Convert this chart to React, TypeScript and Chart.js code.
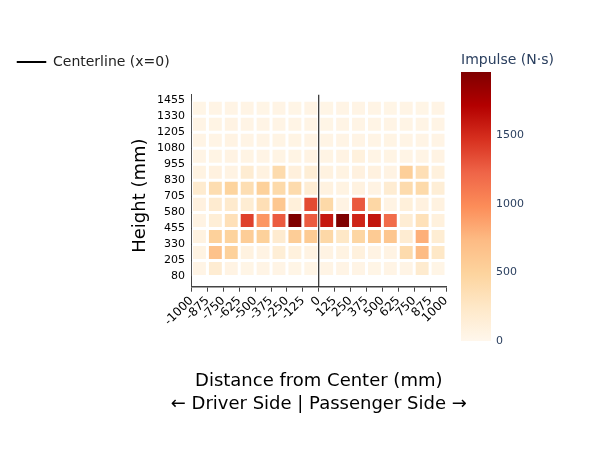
import { useEffect, useRef } from 'react';
import { Chart, registerables } from 'chart.js';

Chart.register(...registerables);
Chart.defaults.font.family = "'DejaVu Sans', Verdana, sans-serif";

// Bin edges, also used as the tick labels
const xEdges = [-1000, -875, -750, -625, -500, -375, -250, -125, 0, 125, 250, 375, 500, 625, 750, 875, 1000];
const yEdges = [80, 205, 330, 455, 580, 705, 830, 955, 1080, 1205, 1330, 1455];

// Impulse (N·s) per cell, one array per height bin (lower edge in the name), left to right
const h80 = [50, 180, 60, 40, 50, 45, 40, 40, 50, 50, 50, 40, 50, 50, 200, 40];
const h205 = [70, 670, 520, 80, 60, 150, 100, 60, 60, 70, 100, 60, 60, 400, 730, 250];
const h330 = [80, 520, 500, 560, 520, 190, 560, 580, 440, 250, 460, 580, 630, 180, 800, 170];
const h455 = [60, 150, 340, 1390, 930, 1270, 1960, 1270, 1590, 1960, 1530, 1610, 1180, 160, 330, 100];
const h580 = [90, 190, 210, 170, 350, 620, 120, 1350, 430, 60, 1280, 450, 60, 120, 90, 80];
const h705 = [200, 380, 490, 370, 520, 420, 400, 160, 80, 70, 80, 60, 180, 400, 420, 150];
const h830 = [70, 90, 60, 180, 80, 400, 110, 150, 80, 70, 90, 90, 60, 540, 350, 100];
const h955 = [50, 55, 60, 55, 50, 55, 55, 60, 55, 60, 100, 50, 55, 50, 45, 60];
const h1080 = [45, 50, 60, 50, 45, 55, 55, 50, 45, 50, 45, 45, 55, 45, 45, 50];
const h1205 = [45, 55, 60, 50, 45, 50, 45, 50, 40, 50, 45, 45, 50, 50, 45, 45];
const h1330 = [40, 45, 50, 45, 40, 45, 40, 45, 40, 45, 45, 45, 40, 45, 40, 45];
const impulseRows = [h80, h205, h330, h455, h580, h705, h830, h955, h1080, h1205, h1330];

const centerlineX = [0, 0];
const centerlineY = [0, 1500];
const colorbarTicks = [0, 500, 1000, 1500];

const xTitle = ['Distance from Center (mm)', '← Driver Side | Passenger Side →'];
const yTitle = 'Height (mm)';

// OrRd colour scale
const orRd: [number, number[]][] = [
  [0, [255, 247, 236]],
  [0.125, [254, 232, 200]],
  [0.25, [253, 212, 158]],
  [0.375, [253, 187, 132]],
  [0.5, [252, 141, 89]],
  [0.625, [239, 101, 72]],
  [0.75, [215, 48, 31]],
  [0.875, [179, 0, 0]],
  [1, [127, 0, 0]],
];

const zMax = Math.max(...impulseRows.flat());

function cellColor(v: number) {
  const t = Math.min(1, Math.max(0, v / zMax));
  for (let i = 1; i < orRd.length; i++) {
    const [t0, c0] = orRd[i - 1];
    const [t1, c1] = orRd[i];
    if (t <= t1) {
      const f = (t - t0) / (t1 - t0);
      const rgb = c0.map((c, k) => Math.round(c + (c1[k] - c) * f));
      return `rgb(${rgb.join(',')})`;
    }
  }
  return 'rgb(127,0,0)';
}

// axis titles drawn by hand so the long second line is not squeezed to the axis width
const axisTitles = {
  id: 'axisTitles',
  afterDraw(chart: Chart) {
    const { ctx, chartArea: a } = chart;
    ctx.save();
    ctx.fillStyle = '#000';
    ctx.font = "18px 'DejaVu Sans', Verdana, sans-serif";
    ctx.textAlign = 'center';
    ctx.textBaseline = 'middle';
    const cx = (a.left + a.right) / 2;
    xTitle.forEach((t, i) => ctx.fillText(t, cx, a.bottom + 94.3 + i * 23));
    ctx.translate(a.left - 51.5, (a.top + a.bottom) / 2 + 5);
    ctx.rotate(-Math.PI / 2);
    ctx.fillText(yTitle, 0, 0);
    ctx.restore();
  },
};

export default function App() {
  const mainRef = useRef<HTMLCanvasElement>(null);
  const barRef = useRef<HTMLCanvasElement>(null);

  useEffect(() => {
    if (!mainRef.current || !barRef.current) return;

    const xCenters = xEdges.slice(0, -1).map((e, i) => (e + xEdges[i + 1]) / 2);

    const heatmapSets = impulseRows.map((row, r) => ({
      type: 'bar' as const,
      label: `${yEdges[r]}-${yEdges[r + 1]} mm`,
      data: row.map((_, c) => ({ x: xCenters[c], y: [yEdges[r], yEdges[r + 1]] })),
      backgroundColor: row.map(cellColor),
      borderColor: '#ffffff',
      borderWidth: 1.5,
      borderSkipped: false,
      inflateAmount: 0,
      grouped: false,
      barPercentage: 1,
      categoryPercentage: 1,
      order: 1,
    }));

    const main = new Chart(mainRef.current, {
      type: 'bar',
      data: {
        datasets: [
          {
            type: 'line',
            label: 'Centerline (x=0)',
            data: centerlineX.map((x, i) => ({ x, y: centerlineY[i] })),
            borderColor: '#000',
            backgroundColor: '#000',
            borderWidth: 1,
            pointRadius: 0,
            order: 0,
          },
          ...heatmapSets,
        ] as any,
      },
      options: {
        responsive: false,
        animation: false,
        events: [],
        layout: { padding: { top: 45, left: 7, right: 146, bottom: 0 } },
        plugins: {
          legend: {
            position: 'top',
            align: 'start',
            weight: 3000,
            labels: {
              filter: (item) => item.datasetIndex === 0,
              boxWidth: 29,
              boxHeight: 1,
              padding: 10,
              color: '#222',
              font: { size: 14 },
            },
          },
          // empty title used as a spacer between legend and plot
          title: { display: true, text: '', padding: 0, font: { size: 1, lineHeight: '15.5px' } },
          tooltip: { enabled: false },
        },
        scales: {
          x: {
            type: 'linear',
            min: -1000,
            max: 1000,
            offset: false,
            afterBuildTicks: (s) => {
              s.ticks = xEdges.map((value) => ({ value }));
            },
            afterFit: (s) => {
              s.height = 163.3;
            },
            grid: { display: true, offset: false, drawOnChartArea: false, drawTicks: true, tickLength: 5, color: '#444' },
            border: { display: true, color: '#444', width: 1.5 },
            ticks: {
              minRotation: 45,
              maxRotation: 45,
              autoSkip: false,
              padding: 2,
              color: '#000',
              font: { size: 12 },
              callback: (v) => String(v),
            },
          },
          y: {
            type: 'linear',
            min: 0,
            max: 1500,
            afterBuildTicks: (s) => {
              s.ticks = yEdges.map((value) => ({ value }));
            },
            afterFit: (s) => {
              s.width = 184.5;
            },
            grid: { display: false, drawTicks: false },
            border: { display: true, color: '#444', width: 1 },
            ticks: { padding: 6.5, color: '#000', font: { size: 11 }, callback: (v) => String(v) },
          },
        },
      },
      plugins: [axisTitles],
    });

    const bar = new Chart(barRef.current, {
      type: 'bar',
      data: {
        labels: [''],
        datasets: [
          {
            label: 'Impulse (N·s)',
            data: [[0, zMax]],
            backgroundColor: (c: any) => {
              const chart = c.chart;
              if (!chart.chartArea) return 'transparent';
              const ys = chart.scales.y;
              const g = chart.ctx.createLinearGradient(0, ys.getPixelForValue(0), 0, ys.getPixelForValue(zMax));
              orRd.forEach(([t, rgb]) => g.addColorStop(t, `rgb(${rgb.join(',')})`));
              return g;
            },
            borderWidth: 0,
            inflateAmount: 0,
            barPercentage: 1,
            categoryPercentage: 1,
          },
        ] as any,
      },
      options: {
        responsive: false,
        animation: false,
        events: [],
        layout: { padding: { top: 0, left: 6, right: 0, bottom: 29 } },
        plugins: {
          legend: { display: false },
          tooltip: { enabled: false },
          title: {
            display: true,
            text: 'Impulse (N·s)',
            align: 'start',
            color: '#2a3f5f',
            font: { size: 14, weight: 'normal' },
            padding: { top: 11.6, bottom: 3.6 },
          },
        },
        scales: {
          x: { display: false },
          y: {
            position: 'right',
            min: 0,
            max: zMax,
            afterBuildTicks: (s) => {
              s.ticks = colorbarTicks.map((value) => ({ value }));
            },
            afterFit: (s) => {
              s.width = 101;
            },
            grid: { display: false, drawTicks: false },
            border: { display: false },
            ticks: { padding: 5, color: '#2a3f5f', font: { size: 11 }, callback: (v) => String(v) },
          },
        },
      },
    });

    return () => {
      main.destroy();
      bar.destroy();
    };
  }, []);

  return (
    <div style={{ position: 'absolute', left: 0, top: 0, width: 592, height: 450, background: '#fff' }}>
      <canvas ref={mainRef} width={592} height={450} style={{ position: 'absolute', left: 0, top: 0 }} />
      <canvas ref={barRef} width={137} height={330} style={{ position: 'absolute', left: 455, top: 40 }} />
    </div>
  );
}
